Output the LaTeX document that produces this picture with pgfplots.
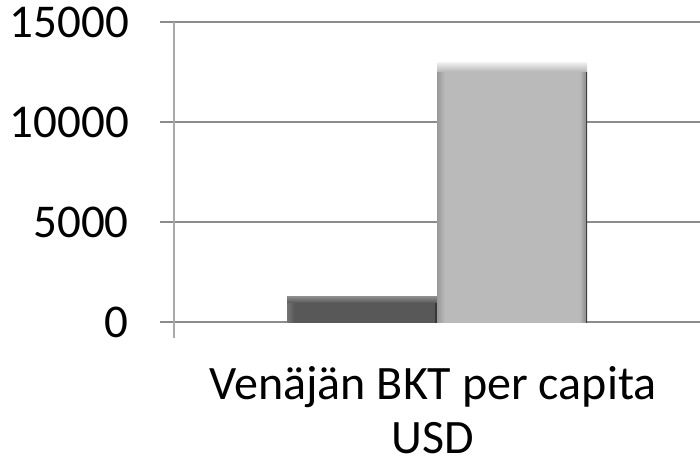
\documentclass[border=0pt]{standalone}
\usepackage{fontspec}
\setmainfont{Carlito}
\usepackage{pgfplots}
\pgfplotsset{compat=1.18}
\definecolor{gridc}{HTML}{8C8C8C}
\definecolor{yaxc}{HTML}{A8A8A8}
\pgfdeclarefunctionalshading{barAshade}{\pgfpoint{0bp}{0bp}}{\pgfpoint{100bp}{100bp}}{}{
  dup 62 gt { exch pop 62 sub 13 div 0.22 mul 0.345 add dup dup } { pop dup 27.5 lt { 25 sub 2.5 div 0.115 mul 0.46 exch sub dup dup } { dup 74 gt { pop 0.22 0.22 0.22 } { pop 0.345 0.345 0.345 } ifelse } ifelse } ifelse
}
\pgfdeclarefunctionalshading{barBshade}{\pgfpoint{0bp}{0bp}}{\pgfpoint{100bp}{100bp}}{}{
  dup 73.2 gt { exch pop 73.2 sub 1.8 div 0.22 mul 0.73 add dup dup } { pop dup 27.7 lt { 25 sub 2.7 div 0.13 mul 0.60 add dup dup } { dup 74.4 gt { pop 0.25 0.25 0.25 } { dup 72.5 gt { 72.5 sub 1.9 div 0.16 mul 0.73 exch sub dup dup } { pop 0.73 0.73 0.73 } ifelse } ifelse } ifelse } ifelse
}
\begin{document}
\begin{tikzpicture}
\begin{axis}[
  at={(0pt,0pt)}, anchor=south west,
  scale only axis,
  width=526pt, height=300pt,
  xmin=-0.5, xmax=0.5,
  ymin=0, ymax=15000,
  ybar=0pt, bar width=150pt,
  axis x line*=bottom, axis y line*=left,
  x axis line style={draw=gridc, line width=1.6pt, -},
  y axis line style={draw=yaxc, line width=2pt, -},
  ytick={0,5000,10000,15000},
  scaled y ticks=false,
  ymajorgrids,
  major grid style={draw=gridc, line width=1.6pt},
  tick align=outside,
  major tick length=14pt,
  ytick style={draw=gridc, line width=1.6pt},
  xtick={0},
  xticklabels={{Venäjän BKT per capita\\USD}},
  xtick style={draw=none},
  extra x ticks={-0.5},
  extra x tick labels={},
  extra x tick style={grid=none, major tick length=16pt, xtick style={draw=yaxc, line width=2pt}},
  /pgf/number format/assume math mode=true,
  /pgf/number format/set thousands separator={},
  yticklabel style={font=\fontsize{47}{52}\selectfont, inner sep=0pt, anchor=east, xshift=-31pt},
  xticklabel style={font=\fontsize{48}{54}\selectfont, inner sep=0pt, align=center, anchor=north, yshift=-30pt, xshift=-4pt},
  clip=false,
]
\addplot[ybar, draw=none, shading=barAshade] coordinates {(0,1300)};
\addplot[ybar, draw=none, shading=barBshade] coordinates {(0,13000)};
\end{axis}
\pgfresetboundingbox
\path[use as bounding box] (-174pt,-142pt) rectangle (526pt,322pt);
\end{tikzpicture}
\end{document}
